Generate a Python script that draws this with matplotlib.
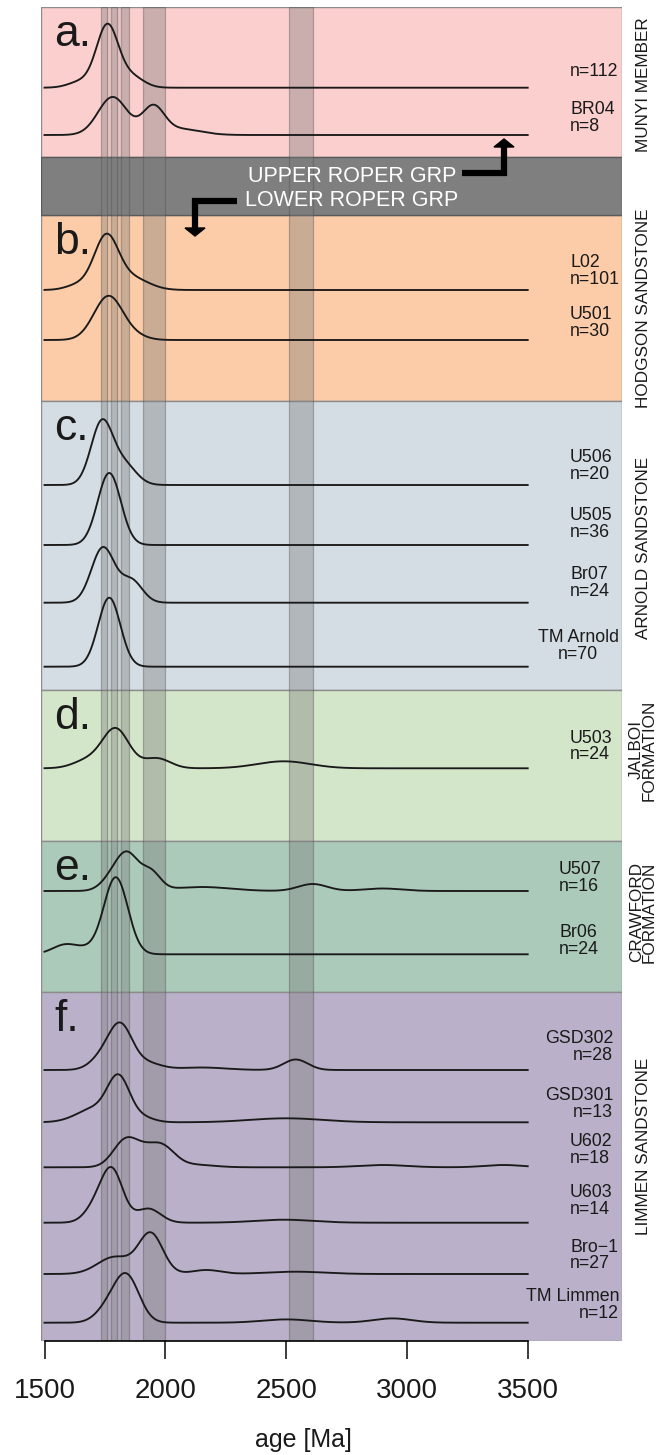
import numpy as np
import matplotlib
matplotlib.use('Agg')
from matplotlib import pyplot as plt

plt.rcParams['font.family'] = ['Liberation Sans', 'DejaVu Sans']

# ---- data ------------------------------------------------------------
PANEL_LETTERS = ['a.', 'b.', 'c.', 'd.', 'e.', 'f.']
FORMATIONS = ['MUNYI MEMBER', 'HODGSON SANDSTONE', 'ARNOLD SANDSTONE',
              'JALBOI\nFORMATION', 'CRAWFORD\nFORMATION', 'LIMMEN SANDSTONE']
PANEL_COLORS = ['#fccfcf', '#fccba7', '#d5dde4', '#d4e6ca', '#abcab9', '#bbb0c9']

SAMPLE_NAMES = ['', 'BR04', 'L02', 'U501', 'U506', 'U505', 'Br07', 'TM Arnold',
                'U503', 'U507', 'Br06', 'GSD302', 'GSD301', 'U602', 'U603',
                'Bro\u22121', 'TM Limmen']
N_GRAINS = [112, 8, 101, 30, 20, 36, 24, 70, 24, 16, 24, 28, 13, 18, 14, 27, 12]

# age peaks of each probability curve: (age [Ma], height, spread [Ma])
PEAKS = [
    [(1760, 62, 45), (1860, 11, 50), (1650, 6, 50)],
    [(1782, 38, 60), (1950, 27, 45), (2060, 6, 85)],
    [(1755, 52, 50), (1860, 12, 70), (1640, 5, 50)],
    [(1765, 44, 60), (1880, 3, 50)],
    [(1737, 62, 45), (1830, 20, 50)],
    [(1768, 72, 48)],
    [(1742, 55, 48), (1860, 22, 45)],
    [(1768, 69, 46)],
    [(1795, 39, 55), (1680, 8, 60), (1965, 10, 55), (2490, 7, 110)],
    [(1845, 34, 45), (1780, 12, 45), (1940, 18, 40), (2150, 4, 120),
     (2610, 7, 60), (2900, 2.5, 80)],
    [(1795, 77, 50), (1680, 3, 40), (1590, 10, 55)],
    [(1815, 42, 48), (1740, 12, 50), (1920, 7, 60), (2150, 2.5, 100),
     (2540, 10.5, 50)],
    [(1807, 41, 45), (1710, 14, 75), (1900, 5, 50), (2500, 4, 150)],
    [(1838, 28, 52), (1910, 5, 40), (1980, 22, 55), (2120, 2.5, 80),
     (2900, 2.3, 100), (3400, 2.3, 80)],
    [(1780, 51, 45), (1710, 14, 45), (1930, 14, 50), (2490, 3, 120)],
    [(1940, 40, 50), (1790, 17, 70), (2170, 4, 60), (2540, 2.3, 120)],
    [(1840, 46, 52), (1760, 12, 50), (2500, 3.3, 100), (2940, 4.3, 80)],
]

# highlighted age intervals (Ma)
BANDS = [(1734, 1757), (1775, 1801), (1815, 1850), (1909, 1999), (2513, 2610)]
LIGHT_BANDS = [(1757, 1775), (1801, 1815)]

# ---- layout (pixel rows of the 661x1455 figure) -----------------------
W, H = 661, 1455
X0, X1 = 41, 622
Y_TOP, Y_BOT = 7, 1341
PANEL_Y = [(7, 157), (215, 401), (401, 690), (690, 841), (841, 992), (992, 1341)]
DIVIDER_Y = (157, 215)
BASELINES = [87.7, 135, 290, 340, 485, 545, 602.7, 666.7, 768.3, 891, 954.3,
             1070, 1122.3, 1167.3, 1222.7, 1274, 1322.7]
LABEL_Y = [71, 118, 271, 323, 466, 524, 583, 646, 746.5, 878, 941,
           1047, 1104, 1150, 1201, 1255.5, 1305]
LABEL_X = [570, 570, 570, 570, 570, 570, 570, 578, 570, 559, 559,
           613, 613, 570, 570, 570, 619]
LABEL_HA = ['left'] * 7 + ['center'] + ['left'] * 3 + ['right', 'right'] \
           + ['left'] * 3 + ['right']
FORMATION_Y = [85, 308, 548, 750, 912, 1146]


def px2age(px):
    return 2000 + (px - 165.3) / 0.2416


def curve(peaks, ages):
    dens = np.zeros_like(ages)
    for mu, amp, sig in peaks:
        dens += amp * np.exp(-(ages - mu) ** 2 / (2 * sig ** 2))
    return dens


fig = plt.figure(figsize=(W / 100, H / 100), dpi=100)
ax = fig.add_axes([X0 / W, (H - Y_BOT) / H, (X1 - X0) / W, (Y_BOT - Y_TOP) / H])
ax.set_xlim(px2age(X0), px2age(X1))
ax.set_ylim(Y_BOT, Y_TOP)

for (top, bot), col in zip(PANEL_Y, PANEL_COLORS):
    ax.axhspan(top, bot, fc=col, ec='#8c8c8c', lw=1, zorder=0)
ax.axhspan(*DIVIDER_Y, fc='#7f7f7f', ec='#5a5a5a', lw=1, zorder=0)

for lo, hi in LIGHT_BANDS:
    ax.axvspan(lo, hi, fc='#808080', alpha=0.15, lw=0, zorder=1)
for lo, hi in BANDS:
    ax.axvspan(lo, hi, fc='#7a7a7a', alpha=0.38, ec='#4d4d4d', lw=0.9, zorder=1)

ages = np.linspace(1500, 3500, 900)
for peaks, base in zip(PEAKS, BASELINES):
    ax.plot(ages, base - curve(peaks, ages), color='#1a1a1a', lw=1.35, zorder=3)

for name, n, x, y, ha in zip(SAMPLE_NAMES, N_GRAINS, LABEL_X, LABEL_Y, LABEL_HA):
    txt = f'n={n}' if name == '' else f'{name}\nn={n}'
    ax.text(px2age(x), y, txt, fontsize=12.8, ha=ha, va='center',
            multialignment=ha, linespacing=0.93, color='#1a1a1a', zorder=4)

for letter, (top, bot) in zip(PANEL_LETTERS, PANEL_Y):
    ax.text(px2age(54), top + 39, letter, fontsize=32, ha='left',
            va='baseline', color='#1a1a1a', zorder=4)

for form, y in zip(FORMATIONS, FORMATION_Y):
    fig.text(643 / W, 1 - y / H, form, rotation=90, fontsize=12.3,
             ha='center', va='center', linespacing=0.85, color='#1a1a1a')

# upper / lower Roper group divider
ax.text(px2age(352.6), 176, 'UPPER ROPER GRP', color='white', fontsize=15.5,
        ha='center', va='center', zorder=4)
ax.text(px2age(351.7), 200, 'LOWER ROPER GRP', color='white', fontsize=15.5,
        ha='center', va='center', zorder=4)
ax.plot([px2age(462), px2age(504), px2age(504)], [173, 173, 147],
        color='k', lw=4.5, solid_joinstyle='miter', solid_capstyle='butt', zorder=4)
ax.fill([px2age(494), px2age(514), px2age(504)], [147, 147, 139], color='k', zorder=4)
ax.plot([px2age(237), px2age(195), px2age(195)], [201, 201, 228],
        color='k', lw=4.5, solid_joinstyle='miter', solid_capstyle='butt', zorder=4)
ax.fill([px2age(185), px2age(205), px2age(195)], [228, 228, 236], color='k', zorder=4)

# axis
for side in ['left', 'right', 'top']:
    ax.spines[side].set_visible(False)
ax.spines['bottom'].set_bounds(1500, 3500)
ax.spines['bottom'].set_linewidth(1.2)
ax.spines['bottom'].set_zorder(5)
ax.set_yticks([])
ax.set_xticks([1500, 2000, 2500, 3000, 3500])
ax.tick_params(axis='x', length=13, width=1.2, labelsize=20, pad=14,
               colors='#1a1a1a')
fig.text(303 / W, 1 - 1440 / H, 'age [Ma]', fontsize=18, ha='center',
         va='center', color='#1a1a1a')

fig.savefig('out.png', dpi=100)
